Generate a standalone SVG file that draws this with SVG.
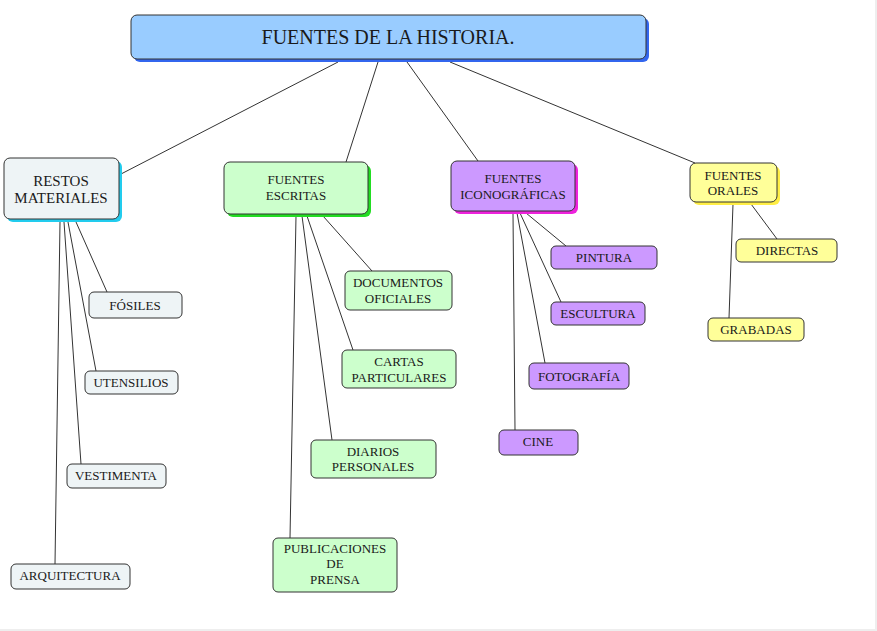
<svg xmlns="http://www.w3.org/2000/svg" width="877" height="631" viewBox="0 0 877 631">
<style>
text{font-family:"Liberation Serif","Times New Roman",serif;fill:#1a1a1a;text-anchor:middle}
.b{stroke:#333;stroke-width:1}
.g{fill:#eef4f6}.gr{fill:#ccffcc}.p{fill:#cc99ff}.y{fill:#ffff99}
.c line{stroke:#333;stroke-width:1}
.s{font-size:13px}.m{font-size:15px}
</style>
<rect width="877" height="631" fill="#fff"/>
<rect x="875" y="0" width="2" height="631" fill="#eeeeee"/>
<rect x="0" y="629" width="877" height="2" fill="#eeeeee"/>
<g class="c">
<line x1="338" y1="62" x2="121" y2="174"/>
<line x1="378" y1="62" x2="346" y2="162"/>
<line x1="407" y1="62" x2="478" y2="161"/>
<line x1="450" y1="62" x2="695" y2="163"/>
<line x1="76" y1="222" x2="107" y2="292"/>
<line x1="68" y1="222" x2="96" y2="371"/>
<line x1="64" y1="222" x2="81" y2="464"/>
<line x1="60" y1="222" x2="55" y2="564"/>
<line x1="323" y1="216" x2="372" y2="271"/>
<line x1="307" y1="216" x2="353" y2="350"/>
<line x1="302" y1="216" x2="332" y2="440"/>
<line x1="296" y1="216" x2="290" y2="538"/>
<line x1="526" y1="213" x2="566" y2="246"/>
<line x1="520" y1="213" x2="561" y2="302"/>
<line x1="517" y1="213" x2="545" y2="363"/>
<line x1="513" y1="213" x2="515" y2="430"/>
<line x1="751" y1="204" x2="777" y2="239"/>
<line x1="733" y1="204" x2="729" y2="318"/>
</g>
<g id="root">
<rect x="134" y="18" width="515" height="44" rx="6" fill="#3366ee"/>
<rect x="131" y="15" width="515" height="44" rx="6" fill="#99ccff" class="b"/>
<text x="388" y="44" style="font-size:20px">FUENTES DE LA HISTORIA.</text>
</g>
<g id="restos">
<rect x="7" y="161" width="115" height="61" rx="6" fill="#22ccee"/>
<rect x="4" y="158" width="115" height="61" rx="6" class="g b"/>
<text class="m" x="61" y="186">RESTOS</text>
<text class="m" x="61" y="203">MATERIALES</text>
</g>
<g id="escritas">
<rect x="227" y="165" width="144" height="52" rx="6" fill="#22dd22"/>
<rect x="224" y="162" width="144" height="52" rx="6" class="gr b"/>
<text class="s" x="296" y="184">FUENTES</text>
<text class="s" x="296" y="200">ESCRITAS</text>
</g>
<g id="iconograficas">
<rect x="454" y="164" width="124" height="50" rx="6" fill="#ee22dd"/>
<rect x="451" y="161" width="124" height="50" rx="6" class="p b"/>
<text class="s" x="513" y="183">FUENTES</text>
<text class="s" x="513" y="199">ICONOGRÁFICAS</text>
</g>
<g id="orales">
<rect x="693" y="166" width="87" height="39" rx="6" fill="#ffee44"/>
<rect x="690" y="163" width="87" height="39" rx="6" class="y b"/>
<text class="s" x="733" y="180">FUENTES</text>
<text class="s" x="733" y="195">ORALES</text>
</g>
<g id="fosiles"><rect x="89" y="292" width="93" height="26" rx="5" class="g b"/><text class="s" x="135" y="310">FÓSILES</text></g>
<g id="utensilios"><rect x="85" y="371" width="93" height="23" rx="5" class="g b"/><text class="s" x="131" y="387">UTENSILIOS</text></g>
<g id="vestimenta"><rect x="67" y="464" width="99" height="24" rx="5" class="g b"/><text class="s" x="116" y="480">VESTIMENTA</text></g>
<g id="arquitectura"><rect x="11" y="564" width="119" height="25" rx="5" class="g b"/><text class="s" x="70" y="580">ARQUITECTURA</text></g>
<g id="documentos"><rect x="345" y="271" width="107" height="39" rx="5" class="gr b"/><text class="s" x="398" y="287">DOCUMENTOS</text><text class="s" x="398" y="303">OFICIALES</text></g>
<g id="cartas"><rect x="342" y="350" width="114" height="38" rx="5" class="gr b"/><text class="s" x="399" y="366">CARTAS</text><text class="s" x="399" y="382">PARTICULARES</text></g>
<g id="diarios"><rect x="311" y="440" width="125" height="38" rx="5" class="gr b"/><text class="s" x="373" y="456">DIARIOS</text><text class="s" x="373" y="471">PERSONALES</text></g>
<g id="publicaciones"><rect x="273" y="538" width="124" height="54" rx="5" class="gr b"/><text class="s" x="335" y="553">PUBLICACIONES</text><text class="s" x="335" y="568">DE</text><text class="s" x="335" y="584">PRENSA</text></g>
<g id="pintura"><rect x="551" y="246" width="106" height="23" rx="5" class="p b"/><text class="s" x="604" y="262">PINTURA</text></g>
<g id="escultura"><rect x="551" y="302" width="94" height="23" rx="5" class="p b"/><text class="s" x="598" y="318">ESCULTURA</text></g>
<g id="fotografia"><rect x="529" y="363" width="100" height="26" rx="5" class="p b"/><text class="s" x="579" y="381">FOTOGRAFÍA</text></g>
<g id="cine"><rect x="499" y="430" width="79" height="25" rx="5" class="p b"/><text class="s" x="538" y="446">CINE</text></g>
<g id="directas"><rect x="736" y="239" width="101" height="23" rx="5" class="y b"/><text class="s" x="787" y="255">DIRECTAS</text></g>
<g id="grabadas"><rect x="708" y="318" width="96" height="23" rx="5" class="y b"/><text class="s" x="756" y="334">GRABADAS</text></g>
</svg>
